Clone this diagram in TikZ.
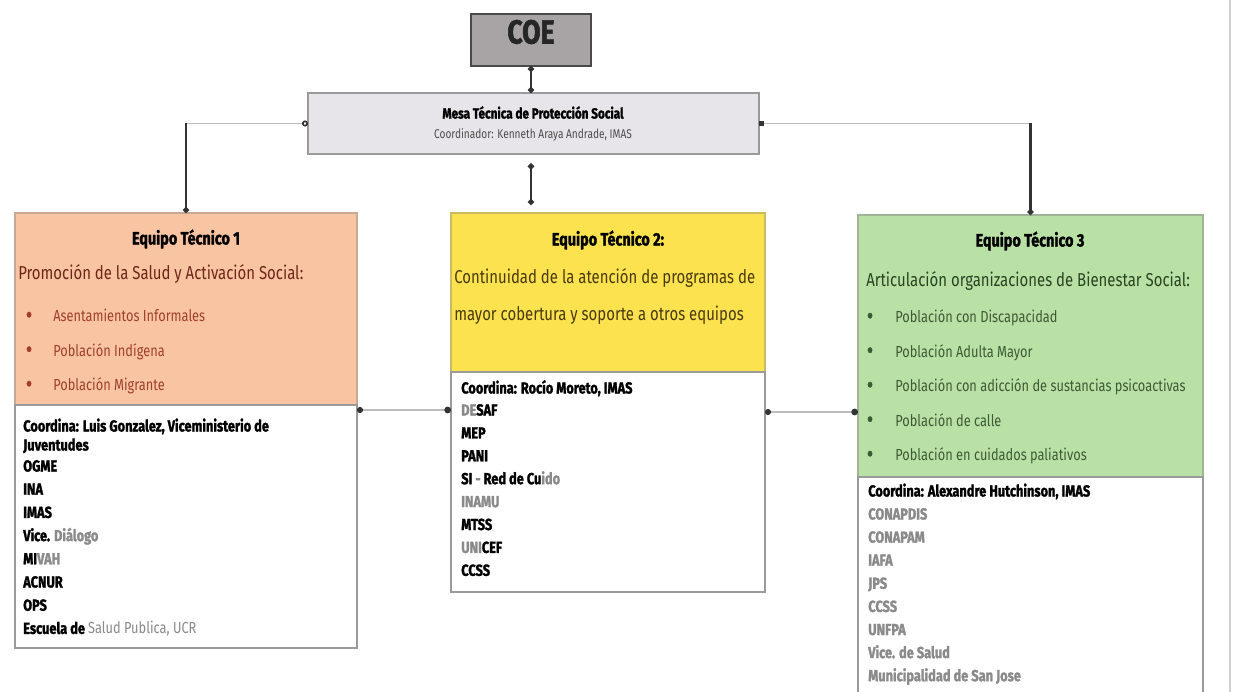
\documentclass[tikz,border=0pt]{standalone}
\usepackage{fontspec}
\setmainfont{Fira Sans}[FakeStretch=0.8, BoldFeatures={FakeBold=1.6}]
\usetikzlibrary{arrows.meta,calc,fit}
\definecolor{coefill}{HTML}{A8A4A6}
\definecolor{coeline}{HTML}{4A4A4A}
\definecolor{mesafill}{HTML}{E7E5E9}
\definecolor{boxline}{HTML}{9A9A9A}
\definecolor{orangefill}{HTML}{F9C4A2}
\definecolor{yellowfill}{HTML}{FBE24E}
\definecolor{greenfill}{HTML}{B9E1A6}
\definecolor{redhead}{HTML}{6E2618}
\definecolor{reditem}{HTML}{A0402A}
\definecolor{brownhead}{HTML}{4A3A10}
\definecolor{greenhead}{HTML}{2A4422}
\definecolor{greenitem}{HTML}{3E5A35}
\definecolor{fadetext}{HTML}{8A8A8A}
\definecolor{linkgray}{HTML}{BDBDBD}
\definecolor{linkdark}{HTML}{333333}
\newcommand\fsz[1]{\fontsize{#1pt}{#1pt}\selectfont}
\begin{document}
\begin{tikzpicture}[x=0.75pt,y=-0.75pt,
  panel/.style={inner sep=0pt, outer sep=0pt, draw=boxline, line width=0.9pt},
  txt/.style={inner sep=0pt, anchor=mid west},
  ctxt/.style={inner sep=0pt, anchor=mid},
  titlefont/.style={font=\fsz{13.5}\bfseries},
  headfont/.style={font=\fsz{14}},
  itemfont/.style={font=\fsz{12}},
  bulletfont/.style={font=\fsz{15}\bfseries},
  listfont/.style={font=\fsz{12}\bfseries},
  vlink/.style={draw=linkdark, line width=1.6pt, {Circle[length=4.5pt]}-{Circle[length=4.5pt]}},
  hlink/.style={draw=linkgray, line width=1.2pt, {Circle[length=4.5pt,color=linkdark]}-{Circle[length=5pt,color=linkdark]}}
]
\useasboundingbox (0,0) rectangle (1236,692);
\fill[white] (0,0) rectangle (1236,692);
\draw[linkgray!70, line width=2pt] (1230,0) -- (1230,692);

% boxes
\node[panel, fill=coefill, draw=coeline, line width=1.2pt, fit={(471,14) (591,66)}] (coe) {};
\node[panel, fill=mesafill, fit={(308,93) (759,154)}] (mesa) {};
\node[panel, fill=orangefill, draw=orangefill!60!gray, fit={(15,213) (357,405)}] (t1) {};
\node[panel, fill=white, fit={(15,405) (357,648)}] (w1) {};
\node[panel, fill=yellowfill, draw=yellowfill!60!gray, fit={(451,213) (765,372)}] (t2) {};
\node[panel, fill=white, fit={(451,372) (765,592)}] (w2) {};
\node[panel, fill=greenfill, draw=greenfill!55!gray, fit={(858,215) (1203,477)}] (t3) {};
\node[panel, fill=white, fit={(858,477) (1203,710)}] (w3) {};

% top texts
\node[ctxt, font=\fsz{25}\bfseries, text=black!85] (coetxt) at (531,40) {COE};
\node[ctxt, font=\fsz{11}\bfseries] (mesat) at (533,115) {Mesa Técnica de Protección Social};
\node[ctxt, font=\fsz{9.5}, text=black!70] (mesac) at (533,135) {Coordinador: Kenneth Araya Andrade, IMAS};

% team 1
\node[ctxt, titlefont] (t1t) at (186,241) {Equipo Técnico 1};
\node[txt, headfont, text=redhead] (t1h) at (18,276) {Promoción de la Salud y Activación Social:};
\foreach \t [count=\i] in {Asentamientos Informales, Población Indígena, Población Migrante}{
  \node[txt, bulletfont, text=reditem] (t1b\i) at (26,{318+(\i-1)*34.5}) {•};
  \node[txt, itemfont, text=reditem] (t1i\i) at (53,{318+(\i-1)*34.5}) {\t};
}
\node[txt, listfont] (w1c) at (23,428) {Coordina: Luis Gonzalez, Viceministerio de};
\node[txt, listfont] (w1j) at (23,447) {Juventudes};
\foreach \t [count=\i] in {OGME, INA, IMAS, {Vice. {\color{fadetext}Diálogo}}, {MI{\color{fadetext}VAH}}, ACNUR, OPS, {Escuela de {\color{fadetext}\mdseries Salud Publica, UCR}}}{
  \node[txt, listfont] (w1l\i) at (23,{468+(\i-1)*23.2}) {\t};
}

% team 2
\node[ctxt, titlefont] (t2t) at (608,242) {Equipo Técnico 2:};
\node[txt, headfont, text=brownhead] (t2h1) at (454,280) {Continuidad de la atención de programas de};
\node[txt, headfont, text=brownhead] (t2h2) at (454,317) {mayor cobertura y soporte a otros equipos};
\node[txt, listfont] (w2c) at (461,390) {Coordina: Rocío Moreto, IMAS};
\foreach \t [count=\i] in {{{\color{fadetext}DE}SAF}, MEP, PANI, {SI {\color{fadetext}-} Red de Cu{\color{fadetext}ido}}, {{\color{fadetext}INAMU}}, MTSS, {{\color{fadetext}UNI}CEF}, CCSS}{
  \node[txt, listfont] (w2l\i) at (461,{412+(\i-1)*22.9}) {\t};
}

% team 3
\node[ctxt, titlefont] (t3t) at (1030,243) {Equipo Técnico 3};
\node[txt, headfont, text=greenhead] (t3h) at (866,283) {Articulación organizaciones de Bienestar Social:};
\foreach \t [count=\i] in {Población con Discapacidad, Población Adulta Mayor, Población con adicción de sustancias psicoactivas, Población de calle, Población en cuidados paliativos}{
  \node[txt, bulletfont, text=greenitem] (t3b\i) at (867,{319+(\i-1)*34.5}) {•};
  \node[txt, itemfont, text=greenitem] (t3i\i) at (895,{319+(\i-1)*34.5}) {\t};
}
\node[txt, listfont] (w3c) at (868,493) {Coordina: Alexandre Hutchinson, IMAS};
\foreach \t [count=\i] in {CONAPDIS, CONAPAM, IAFA, JPS, CCSS, UNFPA, Vice. de Salud, Municipalidad de San Jose}{
  \node[txt, listfont, text=fadetext] (w3l\i) at (868,{516+(\i-1)*23.1}) {\t};
}

% connectors
\draw[vlink] (coe.south) -- (mesa.north -| coe.south);
\draw[vlink, shorten <=7pt, shorten >=6pt] (mesa.south -| coe.south) -- (t2.north -| coe.south);
\coordinate (cl) at (t1.north |- mesa.west);
\coordinate (cr) at (t3.north |- mesa.east);
\draw[draw=linkgray, line width=1.2pt, {Circle[length=4.5pt,color=linkdark,open]}-] (mesa.west) -- (cl);
\draw[draw=linkdark, line width=1.6pt, -{Circle[length=4.5pt,open]}] (cl) -- (t1.north);
\draw[draw=linkgray, line width=1.2pt, {Square[length=4pt,color=linkdark]}-] (mesa.east) -- (cr);
\draw[draw=linkdark, line width=1.6pt, -{Circle[length=4.5pt,open]}] (cr) -- (t3.north);
\coordinate (hy1) at (0,410);
\coordinate (hy2) at (0,412);
\draw[hlink] (w1.east |- hy1) -- (w2.west |- hy1);
\draw[hlink] (w2.east |- hy2) -- (t3.west |- hy2);
\end{tikzpicture}
\end{document}
